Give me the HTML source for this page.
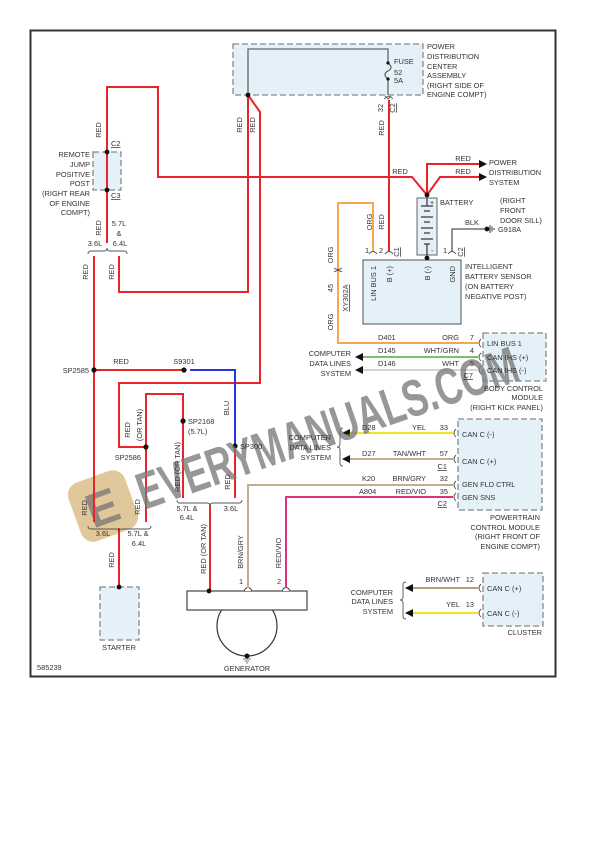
<!DOCTYPE html>
<html><head><meta charset="utf-8">
<style>
html,body{margin:0;padding:0;background:#fff;}
svg{display:block;}
text{font-family:"Liberation Sans",Arial,sans-serif;font-size:7.4px;fill:#333;}
.u{text-decoration:underline;}
</style></head>
<body>
<svg width="612" height="866" viewBox="0 0 612 866" xmlns="http://www.w3.org/2000/svg">
<rect x="0" y="0" width="612" height="866" fill="#fff"/>
<!-- frame -->
<rect x="30.5" y="30.5" width="525" height="646" fill="none" stroke="#333" stroke-width="2"/>

<!-- boxes -->
<rect x="233" y="44" width="190" height="51" fill="#e4f1f9" stroke="#888" stroke-width="1.3" stroke-dasharray="6,3"/>
<rect x="93" y="152" width="28" height="38" fill="#e4f1f9" stroke="#888" stroke-width="1.3" stroke-dasharray="6,3"/>
<rect x="363" y="260" width="98" height="64" fill="#e4f1f9" stroke="#555" stroke-width="1"/>
<rect x="483" y="333" width="63" height="48" fill="#e4f1f9" stroke="#888" stroke-width="1.3" stroke-dasharray="6,3"/>
<rect x="458" y="419" width="84" height="91" fill="#e4f1f9" stroke="#888" stroke-width="1.3" stroke-dasharray="6,3"/>
<rect x="483" y="573" width="60" height="53" fill="#e4f1f9" stroke="#888" stroke-width="1.3" stroke-dasharray="6,3"/>
<rect x="100" y="587" width="39" height="53" fill="#e4f1f9" stroke="#888" stroke-width="1.3" stroke-dasharray="6,3"/>

<!-- PDC inner -->
<path d="M248,95 V49 H388 V63" fill="none" stroke="#666" stroke-width="1.3"/>
<path d="M388,63 c4,3 4,6 0,8 c-4,2 -4,5 0,8 V95" fill="none" stroke="#666" stroke-width="1.3"/>
<circle cx="388" cy="63" r="1.6" fill="#111"/>
<circle cx="388" cy="79" r="1.6" fill="#111"/>
<path d="M384,99 q5,-5 9,0" fill="none" stroke="#666" stroke-width="1"/>
<path d="M385,96 l3,3 l3,-3" fill="none" stroke="#666" stroke-width="1"/>

<!-- RJ post inner -->
<path d="M107,152 V190" stroke="#555" stroke-width="1.3"/>

<!-- battery -->
<rect x="417" y="198" width="20" height="57" fill="#e4f1f9" stroke="#666" stroke-width="1"/>
<g stroke="#333" stroke-width="1.2">
<path d="M427,198 V206"/>
<path d="M421,206 H433"/><path d="M424,211 H430"/>
<path d="M421,217 H433"/><path d="M424,222 H430"/>
<path d="M421,228 H433"/><path d="M424,233 H430"/>
<path d="M421,239 H433"/><path d="M424,244 H430"/>
<path d="M427,244 V255"/>
</g>
<text x="430" y="205" style="font-size:7px">+</text>
<text x="431" y="253" style="font-size:7px">-</text>

<!-- generator -->
<circle cx="247" cy="626" r="30" fill="#fff" stroke="#333" stroke-width="1.2"/>
<rect x="187" y="591" width="120" height="19" fill="#fff" stroke="#444" stroke-width="1.2"/>
<path d="M244.5,591 a3.5,3.5 0 0 1 7,0" fill="#fff" stroke="#444" stroke-width="1"/>
<path d="M282.5,591 a3.5,3.5 0 0 1 7,0" fill="#fff" stroke="#444" stroke-width="1"/>
<circle cx="247" cy="656" r="2.5" fill="#111"/>
<path d="M243,659 H251 M244.5,661 H249.5 M246,663 H248" stroke="#555" stroke-width="0.8"/>

<!-- watermark logo -->
<g transform="translate(103,506) rotate(-20)">
<rect x="-30" y="-31" width="60" height="62" rx="13" fill="#d6b374" opacity="0.72"/>
<text x="-17" y="18" style="font-size:48px;font-weight:bold;fill:#6f6f6f" opacity="0.7">E</text>
</g>

<!-- RED wires -->
<g fill="none" stroke="#e8232a" stroke-width="2">
<path d="M107,243 V87 H158 V177 H412 L427,195"/>
<path d="M248,95 V292 H119 V256"/>
<path d="M248,95 L260,112 V383 H119 V447 H146"/>
<path d="M94,256 V522"/>
<path d="M146,522 V394 H183 V498"/>
<path d="M94,370 H184"/>
<path d="M235,446 V498"/>
<path d="M210,505 V591"/>
<path d="M119,528 V587"/>
<path d="M389,100 V252"/>
<path d="M427,195 V164 H480"/>
<path d="M427,195 L440,177 H480"/>
</g>
<!-- blue -->
<path d="M190,370 H235 V446" fill="none" stroke="#2a35e0" stroke-width="2"/>
<!-- orange -->
<path d="M373,252 V203 H338 V343 H478" fill="none" stroke="#f4a84c" stroke-width="2"/>
<!-- green -->
<path d="M362,357 H478" stroke="#7cc06a" stroke-width="2"/>
<!-- white/grey -->
<path d="M362,370 H478" stroke="#d4d4d4" stroke-width="2"/>
<!-- yellow -->
<path d="M350,433 H453" stroke="#f0e32c" stroke-width="2.2"/>
<path d="M413,613 H478" stroke="#f0e32c" stroke-width="2.2"/>
<!-- tan -->
<path d="M350,459 H453" stroke="#c2ae88" stroke-width="2"/>
<path d="M413,588 H478" stroke="#b59f78" stroke-width="2"/>
<path d="M248,588 V485 H453" fill="none" stroke="#c2ae88" stroke-width="2"/>
<!-- pink -->
<path d="M286,588 V497 H453" fill="none" stroke="#e0307e" stroke-width="2"/>
<!-- black gnd -->
<path d="M452,252 V229 H487" fill="none" stroke="#555" stroke-width="1.3"/>
<circle cx="487" cy="229" r="2.4" fill="#111"/>
<path d="M490,225 V233 M492,226.5 V231.5 M494,228 V230" stroke="#333" stroke-width="1"/>

<!-- arrows -->
<g fill="#111">
<polygon points="487,164 479,160 479,168"/>
<polygon points="487,177 479,173 479,181"/>
<polygon points="355,357 363,353 363,361"/>
<polygon points="355,370 363,366 363,374"/>
<polygon points="342,433 350,429 350,437"/>
<polygon points="342,459 350,455 350,463"/>
<polygon points="405,588 413,584 413,592"/>
<polygon points="405,613 413,609 413,617"/>
</g>

<!-- braces -->
<g fill="none" stroke="#555" stroke-width="0.9">
<path d="M88,254 q0,-3 3,-3 H104 q3,0 3,-3 q0,3 3,3 H124 q3,0 3,3"/>
<path d="M88,526 q0,3 3,3 H116 q3,0 3,3 q0,-3 3,-3 H148 q3,0 3,-3"/>
<path d="M177,500 q0,3 3,3 H207 q3,0 3,3 q0,-3 3,-3 H239 q3,0 3,-3"/>
<path d="M343,428 q-3,0 -3,3 V444 q0,3 -3,3 q3,0 3,3 V463 q0,3 3,3"/>
<path d="M406,582 q-3,0 -3,3 V597 q0,3 -3,3 q3,0 3,3 V616 q0,3 3,3"/>
</g>

<!-- connector arcs -->
<g fill="none" stroke="#555" stroke-width="0.9">
<path d="M369,254 q4,-5 8,0"/><path d="M385,254 q4,-5 8,0"/>
<path d="M448,254 q4,-5 8,0"/>
<path d="M334,268 q4,3 8,0"/><path d="M334,272 q4,-3 8,0"/>
<path d="M481,339 q-4,4 0,8"/><path d="M481,353 q-4,4 0,8"/><path d="M481,366 q-4,4 0,8"/>
<path d="M456,429 q-4,4 0,8"/><path d="M456,455 q-4,4 0,8"/><path d="M456,481 q-4,4 0,8"/><path d="M456,493 q-4,4 0,8"/>
<path d="M481,584 q-4,4 0,8"/><path d="M481,609 q-4,4 0,8"/>
</g>

<!-- nodes -->
<g fill="#111">
<circle cx="248" cy="95" r="2.4"/>
<circle cx="107" cy="152" r="2.4"/>
<circle cx="107" cy="190" r="2.4"/>
<circle cx="427" cy="195" r="2.4"/>
<circle cx="427" cy="258" r="2.4"/>
<circle cx="94" cy="370" r="2.6"/>
<circle cx="184" cy="370" r="2.6"/>
<circle cx="183" cy="421" r="2.6"/>
<circle cx="146" cy="447" r="2.6"/>
<circle cx="235" cy="446" r="2.6"/>
<circle cx="119" cy="587" r="2.4"/>
<circle cx="209" cy="591" r="2.4"/>
</g>

<!-- watermark text -->
<text transform="translate(144,510) rotate(-19)" textLength="400" lengthAdjust="spacingAndGlyphs" style="font-size:52px;font-weight:bold;fill:#7a7a7a" opacity="0.78">EVERYMANUALS.COM</text>

<!-- ===== TEXT ===== -->
<g>
<text x="427" y="49">POWER</text>
<text x="427" y="59">DISTRIBUTION</text>
<text x="427" y="69">CENTER</text>
<text x="427" y="78">ASSEMBLY</text>
<text x="427" y="88">(RIGHT SIDE OF</text>
<text x="427" y="97">ENGINE COMPT)</text>
<text x="394" y="64">FUSE</text>
<text x="394" y="75">52</text>
<text x="394" y="83">5A</text>

<text transform="translate(242,125) rotate(-90)" text-anchor="middle">RED</text>
<text transform="translate(255,125) rotate(-90)" text-anchor="middle">RED</text>
<text transform="translate(383,108) rotate(-90)" text-anchor="middle">32</text>
<text class="u" transform="translate(395,108) rotate(-90)" text-anchor="middle">C2</text>
<text transform="translate(384,128) rotate(-90)" text-anchor="middle">RED</text>
<text x="400" y="174" text-anchor="middle">RED</text>
<text x="463" y="161" text-anchor="middle">RED</text>
<text x="463" y="174" text-anchor="middle">RED</text>
<text x="489" y="165">POWER</text>
<text x="489" y="175">DISTRIBUTION</text>
<text x="489" y="185">SYSTEM</text>
<text x="440" y="205">BATTERY</text>
<text x="500" y="203">(RIGHT</text>
<text x="500" y="213">FRONT</text>
<text x="500" y="223">DOOR SILL)</text>
<text x="498" y="232">G918A</text>
<text x="472" y="225" text-anchor="middle">BLK</text>

<text transform="translate(372,222) rotate(-90)" text-anchor="middle">ORG</text>
<text transform="translate(384,222) rotate(-90)" text-anchor="middle">RED</text>
<text x="367" y="253" text-anchor="middle">1</text>
<text x="381" y="253" text-anchor="middle">2</text>
<text class="u" transform="translate(399,252) rotate(-90)" text-anchor="middle">C1</text>
<text x="445" y="253" text-anchor="middle">1</text>
<text class="u" transform="translate(463,252) rotate(-90)" text-anchor="middle">C2</text>

<text transform="translate(376,266) rotate(-90)" text-anchor="end">LIN BUS 1</text>
<text transform="translate(392,266) rotate(-90)" text-anchor="end">B (+)</text>
<text transform="translate(430,266) rotate(-90)" text-anchor="end">B (-)</text>
<text transform="translate(455,266) rotate(-90)" text-anchor="end">GND</text>
<text x="465" y="269">INTELLIGENT</text>
<text x="465" y="279">BATTERY SENSOR</text>
<text x="465" y="289">(ON BATTERY</text>
<text x="465" y="299">NEGATIVE POST)</text>

<text transform="translate(333,255) rotate(-90)" text-anchor="middle">ORG</text>
<text transform="translate(333,288) rotate(-90)" text-anchor="middle">45</text>
<text class="u" transform="translate(348,298) rotate(-90)" text-anchor="middle">XY302A</text>
<text transform="translate(333,322) rotate(-90)" text-anchor="middle">ORG</text>

<text x="378" y="340">D401</text>
<text x="459" y="340" text-anchor="end">ORG</text>
<text x="474" y="340" text-anchor="end">7</text>
<text x="378" y="353">D145</text>
<text x="459" y="353" text-anchor="end">WHT/GRN</text>
<text x="474" y="353" text-anchor="end">4</text>
<text x="378" y="366">D146</text>
<text x="459" y="366" text-anchor="end">WHT</text>
<text x="474" y="366" text-anchor="end">5</text>
<text class="u" x="473" y="378" text-anchor="end">C7</text>
<text x="487" y="346">LIN BUS 1</text>
<text x="487" y="360">CAN IHS (+)</text>
<text x="487" y="373">CAN IHS (-)</text>
<text x="351" y="356" text-anchor="end">COMPUTER</text>
<text x="351" y="366" text-anchor="end">DATA LINES</text>
<text x="351" y="376" text-anchor="end">SYSTEM</text>
<text x="543" y="391" text-anchor="end">BODY CONTROL</text>
<text x="543" y="400" text-anchor="end">MODULE</text>
<text x="543" y="410" text-anchor="end">(RIGHT KICK PANEL)</text>

<text x="362" y="430">D28</text>
<text x="426" y="430" text-anchor="end">YEL</text>
<text x="448" y="430" text-anchor="end">33</text>
<text x="362" y="456">D27</text>
<text x="426" y="456" text-anchor="end">TAN/WHT</text>
<text x="448" y="456" text-anchor="end">57</text>
<text class="u" x="447" y="469" text-anchor="end">C1</text>
<text x="362" y="481">K20</text>
<text x="426" y="481" text-anchor="end">BRN/GRY</text>
<text x="448" y="481" text-anchor="end">32</text>
<text x="359" y="494">A804</text>
<text x="426" y="494" text-anchor="end">RED/VIO</text>
<text x="448" y="494" text-anchor="end">35</text>
<text class="u" x="447" y="506" text-anchor="end">C2</text>
<text x="462" y="437">CAN C (-)</text>
<text x="462" y="464">CAN C (+)</text>
<text x="462" y="487">GEN FLD CTRL</text>
<text x="462" y="500">GEN SNS</text>
<text x="331" y="440" text-anchor="end">COMPUTER</text>
<text x="331" y="450" text-anchor="end">DATA LINES</text>
<text x="331" y="460" text-anchor="end">SYSTEM</text>
<text x="540" y="520" text-anchor="end">POWERTRAIN</text>
<text x="540" y="530" text-anchor="end">CONTROL MODULE</text>
<text x="540" y="539" text-anchor="end">(RIGHT FRONT OF</text>
<text x="540" y="549" text-anchor="end">ENGINE COMPT)</text>

<text x="460" y="582" text-anchor="end">BRN/WHT</text>
<text x="474" y="582" text-anchor="end">12</text>
<text x="460" y="607" text-anchor="end">YEL</text>
<text x="474" y="607" text-anchor="end">13</text>
<text x="487" y="591">CAN C (+)</text>
<text x="487" y="616">CAN C (-)</text>
<text x="393" y="595" text-anchor="end">COMPUTER</text>
<text x="393" y="604" text-anchor="end">DATA LINES</text>
<text x="393" y="614" text-anchor="end">SYSTEM</text>
<text x="542" y="635" text-anchor="end">CLUSTER</text>

<!-- left -->
<text transform="translate(101,130) rotate(-90)" text-anchor="middle">RED</text>
<text class="u" x="111" y="146">C2</text>
<text class="u" x="111" y="198">C3</text>
<text x="90" y="157" text-anchor="end">REMOTE</text>
<text x="90" y="167" text-anchor="end">JUMP</text>
<text x="90" y="177" text-anchor="end">POSITIVE</text>
<text x="90" y="186" text-anchor="end">POST</text>
<text x="90" y="196" text-anchor="end">(RIGHT REAR</text>
<text x="90" y="206" text-anchor="end">OF ENGINE</text>
<text x="90" y="215" text-anchor="end">COMPT)</text>
<text transform="translate(101,228) rotate(-90)" text-anchor="middle">RED</text>
<text x="119" y="226" text-anchor="middle">5.7L</text>
<text x="119" y="236" text-anchor="middle">&amp;</text>
<text x="95" y="246" text-anchor="middle">3.6L</text>
<text x="120" y="246" text-anchor="middle">6.4L</text>
<text transform="translate(88,272) rotate(-90)" text-anchor="middle">RED</text>
<text transform="translate(114,272) rotate(-90)" text-anchor="middle">RED</text>

<text x="89" y="373" text-anchor="end">SP2585</text>
<text x="121" y="364" text-anchor="middle">RED</text>
<text x="184" y="364" text-anchor="middle">S9301</text>
<text transform="translate(229,408) rotate(-90)" text-anchor="middle">BLU</text>
<text transform="translate(130,430) rotate(-90)" text-anchor="middle">RED</text>
<text transform="translate(142,425) rotate(-90)" text-anchor="middle">(OR TAN)</text>
<text x="188" y="424">SP2168</text>
<text x="188" y="434">(5.7L)</text>
<text x="141" y="460" text-anchor="end">SP2586</text>
<text x="240" y="449">SP300</text>
<text transform="translate(180,467) rotate(-90)" text-anchor="middle">RED (OR TAN)</text>
<text transform="translate(230,482) rotate(-90)" text-anchor="middle">RED</text>
<text x="187" y="511" text-anchor="middle">5.7L &amp;</text>
<text x="187" y="520" text-anchor="middle">6.4L</text>
<text x="231" y="511" text-anchor="middle">3.6L</text>
<text transform="translate(87,508) rotate(-90)" text-anchor="middle">RED</text>
<text transform="translate(140,507) rotate(-90)" text-anchor="middle">RED</text>
<text x="103" y="536" text-anchor="middle">3.6L</text>
<text x="138" y="536" text-anchor="middle">5.7L &amp;</text>
<text x="139" y="546" text-anchor="middle">6.4L</text>
<text transform="translate(114,560) rotate(-90)" text-anchor="middle">RED</text>
<text x="119" y="650" text-anchor="middle">STARTER</text>
<text x="37" y="670">585239</text>

<text transform="translate(206,549) rotate(-90)" text-anchor="middle">RED (OR TAN)</text>
<text transform="translate(243,552) rotate(-90)" text-anchor="middle">BRN/GRY</text>
<text transform="translate(281,553) rotate(-90)" text-anchor="middle">RED/VIO</text>
<text x="241" y="584" text-anchor="middle">1</text>
<text x="279" y="584" text-anchor="middle">2</text>
<text x="247" y="671" text-anchor="middle">GENERATOR</text>
</g>
</svg>
</body></html>
